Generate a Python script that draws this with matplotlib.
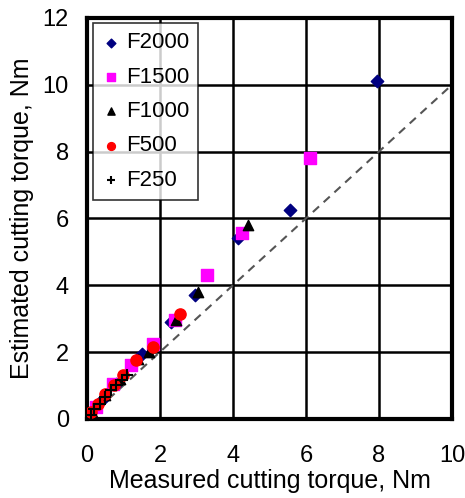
import matplotlib.pyplot as plt

plt.rcParams["font.family"] = ["Liberation Sans", "DejaVu Sans"]

# measured vs estimated cutting torque, Nm
f2000_x = [0.2, 0.45, 0.8, 1.5, 2.3, 2.95, 4.15, 5.55, 7.95]
f2000_y = [0.3, 0.6, 1.05, 1.95, 2.9, 3.7, 5.4, 6.25, 10.1]
f1500_x = [0.25, 0.7, 1.2, 1.8, 2.4, 3.3, 4.25, 6.1]
f1500_y = [0.35, 1.05, 1.6, 2.25, 2.95, 4.3, 5.55, 7.8]
f1000_x = [0.15, 0.5, 0.9, 1.4, 1.7, 2.45, 3.05, 4.4]
f1000_y = [0.2, 0.7, 1.2, 1.8, 2.0, 2.95, 3.8, 5.8]
f500_x = [0.1, 0.3, 0.5, 0.75, 1.0, 1.35, 1.8, 2.55]
f500_y = [0.2, 0.45, 0.75, 1.0, 1.3, 1.75, 2.15, 3.15]
f250_x = [0.1, 0.2, 0.35, 0.5, 0.65, 0.8, 0.95, 1.1]
f250_y = [0.1, 0.3, 0.45, 0.65, 0.85, 1.0, 1.15, 1.3]

fig = plt.figure(figsize=(4.65, 4.98), dpi=100)
ax = fig.add_axes([0.187, 0.159, 0.785, 0.805])

ax.plot([0, 10], [0, 10], linestyle=(0, (4, 3)), color="#555555", lw=1.5, zorder=2)

ax.scatter(f2000_x, f2000_y, marker="D", s=40, color="#000080", label="F2000", zorder=3)
ax.scatter(f1500_x, f1500_y, marker="s", s=70, color="#FF00FF", label="F1500", zorder=3)
ax.scatter(f1000_x, f1000_y, marker="^", s=55, color="black", label="F1000", zorder=3)
ax.scatter(f500_x, f500_y, marker="o", s=65, color="red", label="F500", zorder=3)
ax.scatter(f250_x, f250_y, marker="+", s=70, color="black", linewidths=1.5, label="F250", zorder=4)

ax.set_xlim(0, 10)
ax.set_ylim(0, 12)
ax.set_xticks(range(0, 11, 2))
ax.set_yticks(range(0, 13, 2))
ax.grid(True, color="black", lw=1.8)
ax.set_axisbelow(True)
ax.tick_params(length=0, labelsize=17)
ax.tick_params(axis="x", pad=19)
ax.tick_params(axis="y", pad=13)
for s in ax.spines.values():
    s.set_linewidth(3)

ax.set_xlabel("Measured cutting torque, Nm", fontsize=18, labelpad=1)
ax.set_ylabel("Estimated cutting torque, Nm", fontsize=18, labelpad=6)

leg = ax.legend(loc="upper left", fontsize=16, frameon=True, fancybox=False,
                edgecolor="black", handletextpad=0.2, handlelength=0.9,
                borderpad=0.4, labelspacing=0.6, borderaxespad=0.25,
                markerscale=0.7)
leg.get_frame().set_linewidth(1.2)

fig.savefig("out.png", dpi=100)
